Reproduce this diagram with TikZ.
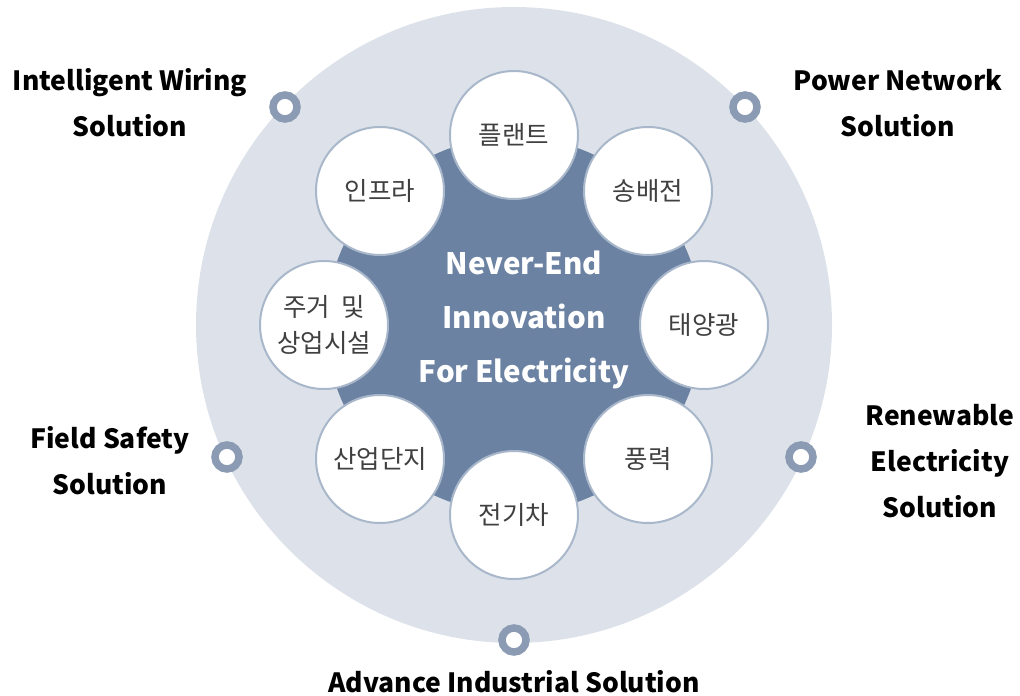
\documentclass[tikz,border=0pt]{standalone}
\usepackage{fontspec}
\usepackage{xcolor}
\setmainfont{Noto Sans CJK KR}
\newfontfamily\krfont{Noto Sans CJK KR}
\definecolor{ringgray}{HTML}{DDE2EA}
\definecolor{hubblue}{HTML}{6B82A3}
\definecolor{petaledge}{HTML}{A9B7CB}
\definecolor{dotblue}{HTML}{8A9BB3}
\definecolor{petaltext}{HTML}{404040}

\begin{document}
\begin{tikzpicture}[x=1pt,y=-1pt,
	petal/.style={circle,draw=petaledge,line width=2pt,fill=white,minimum size=128pt,inner sep=0pt,align=center,text=petaltext,font=\krfont\fontsize{25.5}{36}\selectfont},
	dot/.style={circle,draw=dotblue,line width=7.5pt,fill=white,minimum size=24pt,inner sep=0pt},
	sol/.style={align=center,font=\bfseries\fontsize{26.5}{46}\selectfont}]
	\useasboundingbox (0,0) rectangle (1020,696);

	% background discs
	\node[circle,fill=ringgray,minimum size=636pt,inner sep=0pt] (outer) at (514,325) {};
	\node[circle,fill=hubblue,minimum size=376pt,inner sep=0pt] (hub) at (514,325) {};
	\node[align=center,text=white,font=\bfseries\fontsize{29.5}{54}\selectfont] (title) at (524,320) {Never-End\\Innovation\\For Electricity};

	% application circles
	\node[petal] (plant) at (514,135) {플랜트};
	\node[petal] (grid) at (648,191) {송배전};
	\node[petal] (solar) at (704,325) {태양광};
	\node[petal] (wind) at (648,459) {풍력};
	\node[petal] (ev) at (514,515) {전기차};
	\node[petal] (park) at (380,459) {산업단지};
	\node[petal] (home) at (324,325) {주거~~및\\상업시설};
	\node[petal] (infra) at (380,191) {인프라};

	% rim markers
	\node[dot] (dwiring) at (285,107) {};
	\node[dot] (dnetwork) at (745,107) {};
	\node[dot] (dsafety) at (227,457) {};
	\node[dot] (drenew) at (801,457) {};
	\node[dot] (dindustry) at (514,640) {};

	% solution labels
	\node[sol] (lwiring) at (130,103) {Intelligent Wiring\\Solution};
	\node[sol] (lnetwork) at (898,103) {Power Network\\Solution};
	\node[sol] (lsafety) at (110,461) {Field Safety\\Solution};
	\node[sol] (lrenew) at (940,461) {Renewable\\Electricity\\Solution};
	\node[sol] (lindustry) at (514,682) {Advance Industrial Solution};
\end{tikzpicture}
\end{document}
